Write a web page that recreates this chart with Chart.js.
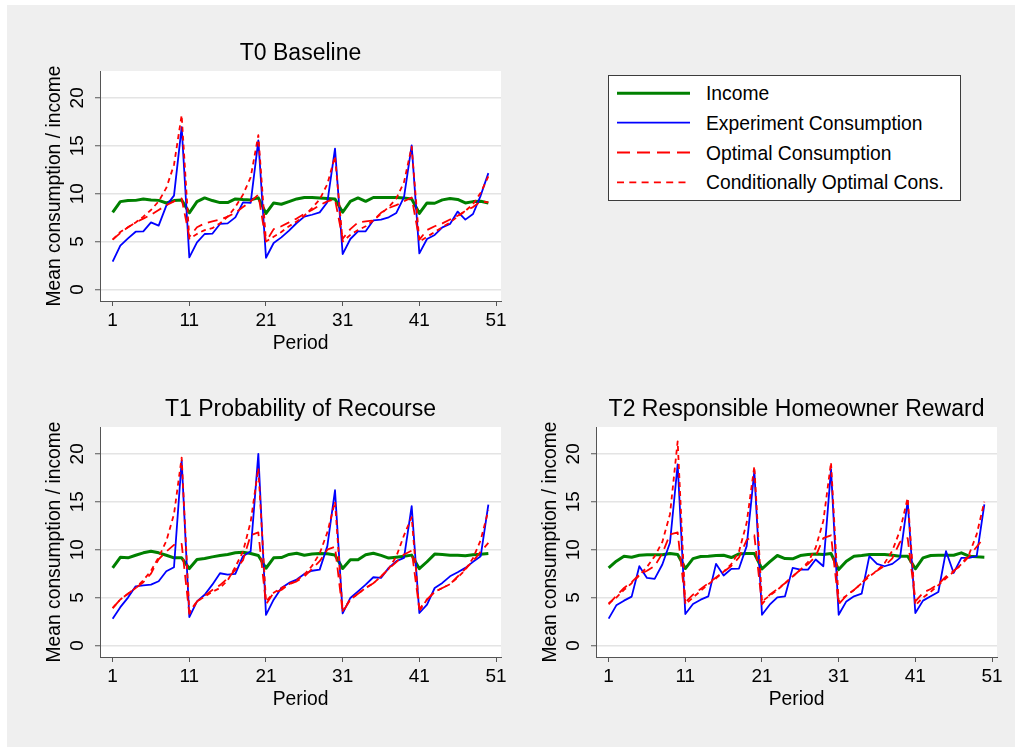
<!DOCTYPE html>
<html>
<head>
<meta charset="utf-8">
<script src="https://cdn.jsdelivr.net/npm/chart.js@4/dist/chart.umd.min.js"></script>
<style>
  html, body { margin:0; padding:0; background:#ffffff; }
  body { width:1023px; height:747px; position:relative; overflow:hidden; font-family:'Liberation Sans', Arial, Helvetica, sans-serif; }
  #bg { position:absolute; left:7px; top:5px; width:1008px; height:742px; background:#efefef; }
  canvas { position:absolute; }
  #legend { position:absolute; left:608px; top:75px; width:351px; height:124px; border:1px solid #3c3c3c; background:#ffffff; }
  #legend svg { position:absolute; left:0; top:0; }
  .lg { position:absolute; left:97px; font-size:19.3px; line-height:24px; color:#000; white-space:nowrap; }
</style>
</head>
<body>
<div id="bg"></div>
<canvas id="c0" width="500" height="345" style="left:20px; top:20px;"></canvas>
<canvas id="c1" width="500" height="345" style="left:20px; top:376px;"></canvas>
<canvas id="c2" width="500" height="345" style="left:516px; top:376px;"></canvas>
<div id="legend"></div>
<script>
// ---------- data ----------
const periods = Array.from({length: 50}, (_, i) => i + 1);
const xTickValues = [1, 11, 21, 31, 41, 51];
const yTickValues = [0, 5, 10, 15, 20];
const seriesNames = ['Income', 'Experiment Consumption', 'Optimal Consumption', 'Conditionally Optimal Cons.'];
const panelTitles = ['T0 Baseline', 'T1 Probability of Recourse', 'T2 Responsible Homeowner Reward'];
const xAxisTitle = 'Period';
const yAxisTitle = 'Mean consumption / income';

// T0 Baseline
const t0Income = [8.06, 9.17, 9.28, 9.3, 9.45, 9.35, 9.3, 9.03, 9.28, 9.35,
                  8.0, 9.17, 9.56, 9.28, 9.07, 9.07, 9.45, 9.38, 9.35, 9.56,
                  7.95, 9.03, 8.9, 9.17, 9.45, 9.6, 9.6, 9.55, 9.5, 9.45,
                  8.06, 9.2, 9.56, 9.2, 9.6, 9.6, 9.6, 9.6, 9.55, 9.45,
                  7.95, 9.03, 9.0, 9.35, 9.5, 9.4, 9.03, 9.17, 9.2, 9.03];
const t0Experiment = [2.9, 4.57, 5.34, 6.03, 6.07, 7.0, 6.66, 8.75, 9.8, 16.95,
                      3.35, 4.92, 5.79, 5.82, 6.84, 6.9, 7.53, 9.1, 9.03, 15.56,
                      3.31, 4.85, 5.44, 6.14, 6.94, 7.6, 7.8, 8.05, 9.1, 14.7,
                      3.7, 5.27, 6.07, 6.07, 7.22, 7.29, 7.53, 7.99, 9.63, 15.03,
                      3.77, 5.27, 5.69, 6.49, 6.84, 8.13, 7.29, 7.88, 9.8, 12.14];
const t0Optimal = [5.2, 5.9, 6.5, 7.0, 7.4, 7.8, 8.3, 8.8, 9.2, 9.5,
                   5.5, 6.5, 6.9, 7.1, 7.3, 7.6, 8.0, 8.6, 9.2, 9.9,
                   5.0, 6.3, 6.6, 7.0, 7.4, 7.9, 8.3, 8.8, 9.2, 9.4,
                   5.3, 6.3, 7.0, 7.1, 7.2, 8.0, 8.5, 8.8, 9.2, 9.6,
                   5.2, 6.2, 6.6, 6.9, 7.3, 7.7, 8.2, 8.6, 9.2, 9.1];
const t0CondOptimal = [5.2, 6.0, 6.5, 7.0, 7.6, 8.3, 9.2, 10.6, 13.0, 18.2,
                       5.3, 5.8, 6.2, 6.4, 6.9, 7.6, 8.6, 9.9, 11.7, 16.1,
                       5.0, 5.5, 6.0, 6.6, 7.1, 7.7, 8.5, 9.4, 11.0, 13.9,
                       5.0, 5.7, 6.2, 6.6, 7.2, 7.9, 8.6, 9.5, 11.2, 14.9,
                       5.0, 5.5, 6.0, 6.5, 7.0, 7.6, 8.2, 8.9, 10.1, 11.8];

// T1 Probability of Recourse
const t1Income = [8.1, 9.2, 9.15, 9.42, 9.67, 9.84, 9.67, 9.42, 9.15, 9.15,
                  8.03, 8.97, 9.07, 9.25, 9.39, 9.5, 9.67, 9.74, 9.6, 9.39,
                  8.06, 9.15, 9.18, 9.5, 9.63, 9.42, 9.55, 9.6, 9.58, 9.45,
                  8.03, 8.95, 8.95, 9.47, 9.63, 9.4, 9.12, 9.22, 9.32, 9.43,
                  8.02, 8.74, 9.54, 9.5, 9.42, 9.42, 9.37, 9.48, 9.52, 9.6];
const t1Experiment = [2.8, 4.0, 5.0, 6.18, 6.28, 6.35, 6.7, 7.75, 8.17, 19.3,
                      2.97, 4.6, 5.3, 6.35, 7.54, 7.4, 7.47, 9.32, 9.84, 20.0,
                      3.2, 4.78, 6.0, 6.53, 6.88, 7.47, 7.8, 7.92, 10.37, 16.2,
                      3.35, 4.96, 5.65, 6.35, 7.12, 7.05, 8.1, 8.8, 9.15, 14.55,
                      3.39, 4.26, 6.0, 6.53, 7.22, 7.64, 8.1, 8.73, 9.32, 14.7];
const t1Optimal = [3.9, 4.8, 5.4, 6.0, 6.6, 7.5, 9.0, 9.8, 10.5, 10.6,
                   3.3, 4.6, 5.2, 5.8, 6.3, 7.0, 7.9, 8.9, 11.5, 11.8,
                   4.3, 5.5, 5.8, 6.4, 6.7, 7.2, 8.0, 8.8, 10.0, 10.3,
                   3.5, 4.8, 5.4, 6.0, 6.5, 7.2, 8.0, 8.7, 9.5, 9.9,
                   3.8, 4.8, 5.6, 6.0, 6.4, 7.2, 8.0, 8.8, 9.8, 10.7];
const t1CondOptimal = [3.9, 4.8, 5.4, 6.0, 6.8, 7.8, 9.2, 10.9, 13.7, 19.6,
                       3.5, 4.6, 5.1, 5.6, 6.0, 6.8, 8.2, 9.8, 12.9, 18.5,
                       4.6, 5.5, 6.0, 6.4, 6.8, 7.4, 8.3, 9.6, 11.8, 15.0,
                       3.6, 4.8, 5.4, 6.0, 6.5, 7.2, 8.0, 9.3, 11.5, 13.4,
                       3.6, 4.8, 5.6, 6.0, 6.4, 7.1, 7.9, 9.1, 11.0, 14.1];

// T2 Responsible Homeowner Reward
const t2Income = [8.1, 8.8, 9.32, 9.21, 9.42, 9.46, 9.46, 9.46, 9.6, 9.5,
                  8.03, 9.07, 9.28, 9.32, 9.39, 9.42, 9.18, 9.56, 9.6, 9.6,
                  8.0, 8.73, 9.39, 9.07, 9.04, 9.39, 9.5, 9.56, 9.5, 9.6,
                  7.92, 8.8, 9.32, 9.39, 9.5, 9.5, 9.5, 9.42, 9.32, 9.32,
                  8.0, 9.14, 9.39, 9.42, 9.42, 9.42, 9.67, 9.32, 9.25, 9.21];
const t2Experiment = [2.8, 4.19, 4.68, 5.1, 8.27, 7.05, 6.95, 8.45, 10.72, 18.9,
                      3.28, 4.33, 4.78, 5.13, 8.52, 7.3, 8.0, 8.03, 10.37, 18.2,
                      3.21, 4.26, 5.03, 5.13, 8.1, 7.92, 7.92, 8.97, 8.27, 18.4,
                      3.21, 4.6, 5.13, 5.41, 9.32, 8.52, 8.27, 8.52, 9.14, 15.08,
                      3.39, 4.68, 5.13, 5.58, 9.84, 7.57, 9.14, 9.14, 9.32, 14.73];
const t2Optimal = [4.3, 5.2, 6.0, 6.6, 7.4, 7.8, 8.3, 9.6, 11.6, 11.8,
                   4.5, 5.3, 5.9, 6.5, 7.1, 7.7, 8.3, 9.2, 11.0, 11.5,
                   4.3, 5.3, 5.9, 6.5, 7.2, 7.9, 8.5, 9.3, 11.2, 11.5,
                   4.3, 5.2, 5.8, 6.5, 7.4, 7.8, 8.3, 9.1, 10.8, 11.2,
                   4.6, 5.5, 5.9, 6.4, 7.2, 7.8, 8.4, 9.3, 10.3, 11.3];
const t2CondOptimal = [4.4, 5.0, 5.8, 6.5, 7.3, 8.2, 9.3, 10.8, 13.7, 21.3,
                       4.3, 5.0, 5.7, 6.4, 7.0, 7.7, 8.5, 9.8, 12.8, 18.7,
                       4.6, 5.2, 5.8, 6.5, 7.2, 7.9, 8.7, 10.2, 13.0, 19.1,
                       4.6, 5.2, 5.8, 6.5, 7.2, 7.8, 8.6, 9.9, 12.0, 15.4,
                       4.2, 5.0, 5.6, 6.3, 7.0, 7.7, 8.5, 9.5, 11.6, 15.0];

// ---------- styling ----------
const FONT = "'Liberation Sans', Arial, Helvetica, sans-serif";
const seriesStyles = [
  { color: '#008000', width: 3,   dash: [] },
  { color: '#0000ff', width: 1.8, dash: [] },
  { color: '#ff0000', width: 1.8, dash: [10, 6] },
  { color: '#ff0000', width: 1.8, dash: [5, 4] }
];
const AXIS = '#555555';

const plotBg = {
  id: 'plotBg',
  beforeDraw(chart) {
    const a = chart.chartArea, ctx = chart.ctx;
    ctx.save();
    ctx.fillStyle = '#ffffff';
    ctx.fillRect(a.left, a.top, a.right - a.left, a.bottom - a.top);
    ctx.restore();
  }
};

function panelConfig(title, seriesList) {
  const datasets = seriesList.map((arr, k) => ({
    label: seriesNames[k],
    data: periods.map((p, i) => ({ x: p, y: arr[i] })),
    borderColor: seriesStyles[k].color,
    borderWidth: seriesStyles[k].width,
    borderDash: seriesStyles[k].dash,
    order: 4 - k
  }));
  return {
    type: 'line',
    data: { datasets },
    options: {
      responsive: false, animation: false, devicePixelRatio: 1,
      elements: { point: { radius: 0, hoverRadius: 0 }, line: { tension: 0, borderJoinStyle: 'round', fill: false } },
      layout: { padding: { left: 0, right: 19, top: 0, bottom: 0 } },
      plugins: {
        legend: { display: false }, tooltip: { enabled: false },
        title: { display: true, text: title, fullSize: false, color: '#000',
                 font: { family: FONT, size: 23, weight: 'normal' }, padding: { top: 20, bottom: 3.4 } }
      },
      scales: {
        x: {
          type: 'linear', min: -0.65, max: 51.65,
          afterBuildTicks: s => { s.ticks = xTickValues.map(v => ({ value: v })); },
          afterFit: s => { s.height = 64; },
          grid: { drawOnChartArea: false, drawTicks: true, tickLength: 5, tickColor: AXIS, tickWidth: 1 },
          border: { display: true, color: AXIS, width: 1 },
          ticks: { color: '#000', font: { family: FONT, size: 19 }, padding: 3.5, minRotation: 0, maxRotation: 0, autoSkip: false },
          title: { display: true, text: xAxisTitle, color: '#000', font: { family: FONT, size: 19.3 }, padding: { top: 0, bottom: 9.6 } }
        },
        y: {
          type: 'linear', min: -1.2, max: 22.8,
          afterBuildTicks: s => { s.ticks = yTickValues.map(v => ({ value: v })); },
          afterFit: s => { s.width = 80; },
          grid: { color: '#e4e4e4', lineWidth: 1.5, tickColor: AXIS, tickLength: 5, tickWidth: 1 },
          border: { display: true, color: AXIS, width: 1 },
          ticks: { color: '#000', font: { family: FONT, size: 19 }, padding: 7, minRotation: 90, maxRotation: 90, crossAlign: 'center' },
          title: { display: true, text: yAxisTitle, color: '#000', font: { family: FONT, size: 19.3 }, padding: { top: 23.4, bottom: 0 } }
        }
      }
    },
    plugins: [plotBg]
  };
}

new Chart(document.getElementById('c0'), panelConfig(panelTitles[0], [t0Income, t0Experiment, t0Optimal, t0CondOptimal]));
new Chart(document.getElementById('c1'), panelConfig(panelTitles[1], [t1Income, t1Experiment, t1Optimal, t1CondOptimal]));
new Chart(document.getElementById('c2'), panelConfig(panelTitles[2], [t2Income, t2Experiment, t2Optimal, t2CondOptimal]));

// ---------- legend ----------
(function buildLegend() {
  const box = document.getElementById('legend');
  const rowY = [17.3, 46.7, 76.5, 106.3];
  const ns = 'http://www.w3.org/2000/svg';
  const svg = document.createElementNS(ns, 'svg');
  svg.setAttribute('width', '351'); svg.setAttribute('height', '124');
  seriesNames.forEach((name, k) => {
    const ln = document.createElementNS(ns, 'line');
    ln.setAttribute('x1', '8'); ln.setAttribute('x2', '81');
    ln.setAttribute('y1', rowY[k]); ln.setAttribute('y2', rowY[k]);
    ln.setAttribute('stroke', seriesStyles[k].color);
    ln.setAttribute('stroke-width', seriesStyles[k].width);
    if (seriesStyles[k].dash.length) ln.setAttribute('stroke-dasharray', k === 2 ? '13 7' : '7 5.3');
    svg.appendChild(ln);
    const t = document.createElement('div');
    t.className = 'lg'; t.textContent = name; t.style.top = (rowY[k] - 11) + 'px';
    box.appendChild(t);
  });
  box.appendChild(svg);
})();
</script>
</body>
</html>
